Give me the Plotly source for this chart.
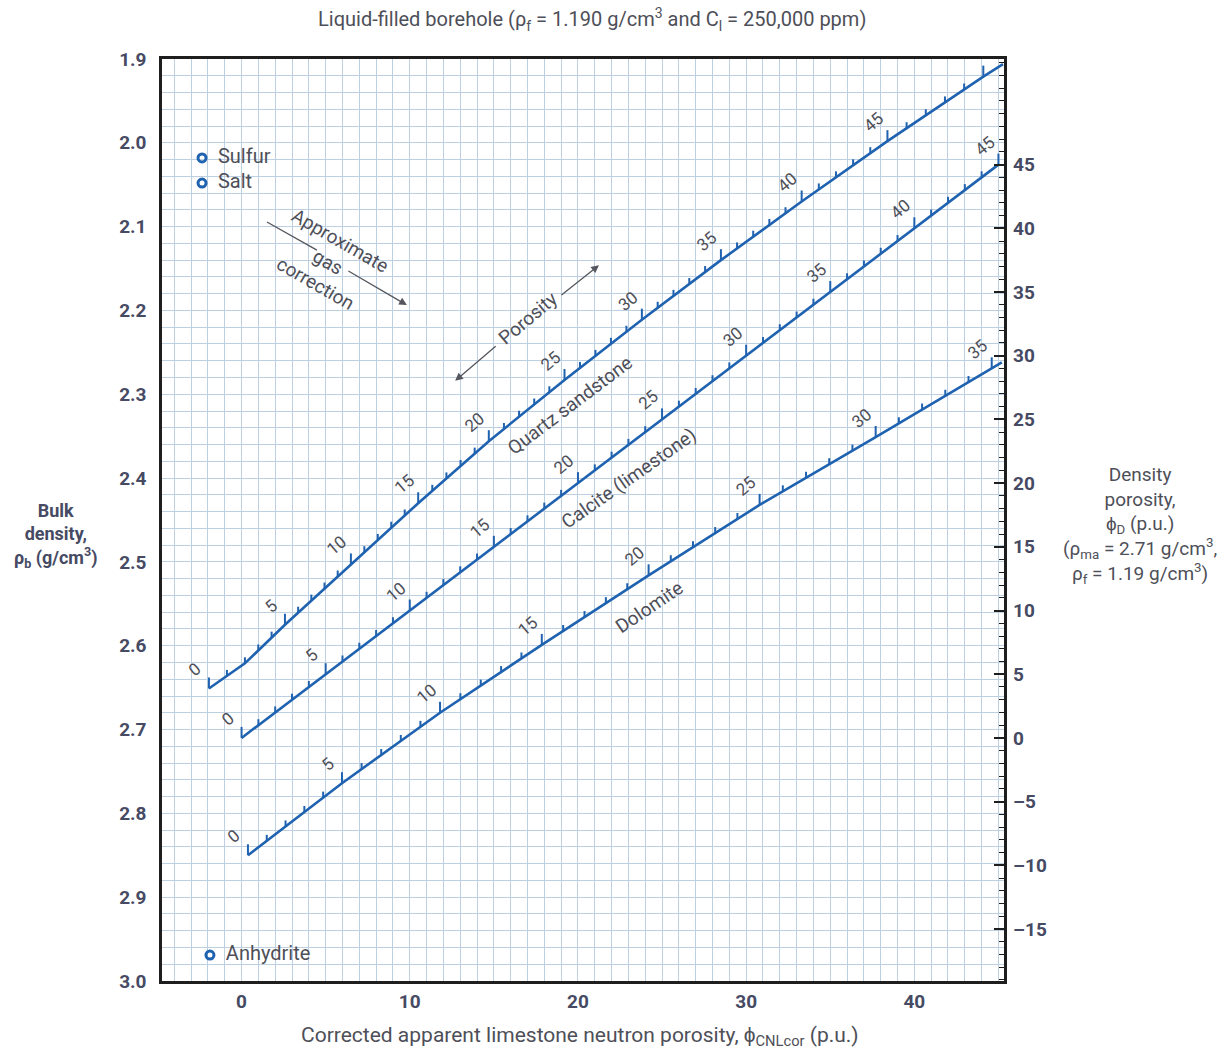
import numpy as np
import plotly.graph_objects as go

# ---------------- data ----------------
# Quartz sandstone: porosity (p.u.), apparent limestone neutron porosity, bulk density
ss_por = [0, 2, 5, 10, 15, 20, 25, 30, 35, 40, 45, 50, 51]
ss_neu = [-1.94, 0.2, 2.58, 6.5, 10.5, 14.7, 19.2, 23.8, 28.5, 33.3, 38.4, 44.1, 45.27]
ss_rho = [2.651, 2.621, 2.575, 2.503, 2.430, 2.356, 2.283, 2.211, 2.140, 2.070, 1.998, 1.921, 1.906]
ss_tickmax = 50
ss_labels = [0, 5, 10, 15, 20, 25, 30, 35, 40, 45]

# Calcite (limestone)
ca_por = [0, 5, 10, 15, 20, 25, 30, 35, 40, 45]
ca_neu = [0, 5, 10, 15, 20, 25, 30, 35, 40, 45]
ca_rho = [2.710, 2.634, 2.558, 2.482, 2.406, 2.330, 2.254, 2.178, 2.102, 2.026]
ca_tickmax = 45
ca_labels = [0, 5, 10, 15, 20, 25, 30, 35, 40, 45]

# Dolomite
do_por = [0, 5, 10, 15, 20, 25, 30, 35, 35.4]
do_neu = [0.38, 5.97, 11.8, 17.85, 24.2, 30.8, 37.7, 44.6, 45.2]
do_rho = [2.850, 2.764, 2.680, 2.599, 2.516, 2.432, 2.351, 2.269, 2.262]
do_tickmax = 35
do_labels = [0, 5, 10, 15, 20, 25, 30, 35]

# Minerals (points)
min_names = ["Sulfur", "Salt", "Anhydrite"]
min_neu = [-2.35, -2.35, -1.88]
min_rho = [2.018, 2.048, 2.969]

# Axis ticks
x_ticks = [0, 10, 20, 30, 40]
y_ticks = [1.9, 2.0, 2.1, 2.2, 2.3, 2.4, 2.5, 2.6, 2.7, 2.8, 2.9, 3.0]
phi_ticks = [-15, -10, -5, 0, 5, 10, 15, 20, 25, 30, 35, 40, 45]
rho_ma, rho_f = 2.71, 1.19

# ---------------- styles ----------------
FONT = "Liberation Sans Narrow, Roboto, Liberation Sans, sans-serif"
BLUE = "#1f62b0"
TXT = "#4e4f58"
AXT = "#464a63"
GRID = "rgb(188,208,226)"
X_RANGE = [-4.73, 45.33]
Y_RANGE = [3.0, 1.9]
PLOT_H_PX = 922
MINOR_LEN = 6 / PLOT_H_PX * 1.1
MAJOR_LEN = 11 / PLOT_H_PX * 1.1

fig = go.Figure()


def add_curve(por, neu, rho, tickmax, labels):
    fig.add_trace(go.Scatter(x=neu, y=rho, mode="lines",
                             line=dict(color=BLUE, width=2.6),
                             hoverinfo="skip", showlegend=False))
    tx, ty = [], []
    for p in range(0, tickmax + 1):
        xv = float(np.interp(p, por, neu))
        yv = float(np.interp(p, por, rho))
        ln = MAJOR_LEN if p % 5 == 0 else MINOR_LEN
        tx += [xv, xv, None]
        ty += [yv, yv - ln, None]
    fig.add_trace(go.Scatter(x=tx, y=ty, mode="lines",
                             line=dict(color=BLUE, width=2),
                             hoverinfo="skip", showlegend=False))
    for p in labels:
        xv = float(np.interp(p, por, neu))
        yv = float(np.interp(p, por, rho))
        fig.add_annotation(x=xv, y=yv, text=str(p), showarrow=False,
                           xshift=-14, yshift=19, textangle=-40,
                           font=dict(family=FONT, size=17, color=TXT))


add_curve(ss_por, ss_neu, ss_rho, ss_tickmax, ss_labels)
add_curve(ca_por, ca_neu, ca_rho, ca_tickmax, ca_labels)
add_curve(do_por, do_neu, do_rho, do_tickmax, do_labels)

# mineral points
fig.add_trace(go.Scatter(x=min_neu, y=min_rho, mode="markers+text",
                         text=["  " + n for n in min_names], textposition="middle right",
                         textfont=dict(family=FONT, size=20, color=TXT),
                         marker=dict(symbol="circle-open", size=8,
                                     line=dict(color=BLUE, width=3), color=BLUE),
                         hoverinfo="skip", showlegend=False))

# invisible trace on right axis so it is rendered
fig.add_trace(go.Scatter(x=[None], y=[None], yaxis="y2", showlegend=False,
                         hoverinfo="skip"))

# curve names
fig.add_annotation(x=19.5, y=2.313, text="Quartz sandstone", showarrow=False,
                   textangle=-37, font=dict(family=FONT, size=19, color=TXT))
fig.add_annotation(x=23.0, y=2.400, text="Calcite (limestone)", showarrow=False,
                   textangle=-35, font=dict(family=FONT, size=19, color=TXT))
fig.add_annotation(x=24.2, y=2.554, text="Dolomite", showarrow=False,
                   textangle=-34, font=dict(family=FONT, size=19, color=TXT))

# porosity double arrow
fig.add_annotation(x=17.0, y=2.209, text="Porosity", showarrow=False,
                   textangle=-40, font=dict(family=FONT, size=19, color=TXT))
fig.add_annotation(x=12.7, y=2.284, ax=42, ay=-36, text="", showarrow=True,
                   arrowhead=2, arrowsize=1.2, arrowwidth=1.3, arrowcolor="#55565e")
fig.add_annotation(x=21.25, y=2.146, ax=-39, ay=31, text="", showarrow=True,
                   arrowhead=2, arrowsize=1.2, arrowwidth=1.3, arrowcolor="#55565e")

# gas correction
fig.add_annotation(x=5.14, y=2.142, text="Approximate<br>gas<br>correction",
                   showarrow=False, textangle=30,
                   font=dict(family=FONT, size=19, color=TXT))
fig.add_shape(type="line", x0=1.51, y0=2.0945, x1=4.48, y1=2.128,
              line=dict(color="#55565e", width=1.3))
fig.add_annotation(x=9.83, y=2.1936, ax=-60, ay=-35, text="", showarrow=True,
                   arrowhead=2, arrowsize=1.2, arrowwidth=1.3, arrowcolor="#55565e")

# titles
PA = dict(xref="paper", yref="paper", showarrow=False, xanchor="center", yanchor="middle")
fig.add_annotation(x=0.5107, y=1.0423,
                   text="Liquid-filled borehole (ρ<sub>f</sub> = 1.190 g/cm<sup>3</sup> and C<sub>l</sub> = 250,000 ppm)",
                   font=dict(family=FONT, size=20, color=TXT), **PA)
fig.add_annotation(x=0.4964, y=-0.0607,
                   text="Corrected apparent limestone neutron porosity, ϕ<sub>CNLcor</sub> (p.u.)",
                   font=dict(family=FONT, size=21, color=TXT), **PA)
fig.add_annotation(x=-0.1259, y=0.4837,
                   text="<b>Bulk</b><br><b>density,</b><br><b>ρ<sub>b</sub> (g/cm<sup>3</sup>)</b>",
                   align="center", font=dict(family=FONT, size=18, color=AXT), **PA)
fig.add_annotation(x=1.1615, y=0.4946,
                   text="Density<br>porosity,<br>ϕ<sub>D</sub> (p.u.)<br>(ρ<sub>ma</sub> = 2.71 g/cm<sup>3</sup>,<br>ρ<sub>f</sub> = 1.19 g/cm<sup>3</sup>)",
                   align="center", font=dict(family=FONT, size=19, color=TXT), **PA)

phi_lo = (rho_ma - Y_RANGE[0]) / (rho_ma - rho_f) * 100
phi_hi = (rho_ma - Y_RANGE[1]) / (rho_ma - rho_f) * 100

fig.update_layout(
    width=1228, height=1056,
    margin=dict(l=162, r=224, t=59, b=75),
    paper_bgcolor="white", plot_bgcolor="white",
    hovermode=False,
    xaxis=dict(range=X_RANGE, tickvals=x_ticks, ticktext=[str(v) for v in x_ticks],
               showgrid=True, gridcolor=GRID, gridwidth=1,
               minor=dict(dtick=1, tick0=0, showgrid=True, gridcolor=GRID, gridwidth=1),
               zeroline=False, showline=True, linecolor="#1e1e1e", linewidth=2.5,
               mirror=True, ticks="", ticklabelstandoff=1,
               tickfont=dict(family=FONT, size=19, color=AXT, weight="bold")),
    yaxis=dict(range=Y_RANGE, tickvals=y_ticks, ticktext=[f"{v:.1f}" for v in y_ticks],
               showgrid=True, gridcolor=GRID, gridwidth=1,
               minor=dict(dtick=0.02, tick0=1.9, showgrid=True, gridcolor=GRID, gridwidth=1),
               zeroline=False, showline=True, linecolor="#1e1e1e", linewidth=2.5,
               mirror=True, ticks="", ticklabelstandoff=9,
               tickfont=dict(family=FONT, size=19, color=AXT, weight="bold")),
    yaxis2=dict(overlaying="y", side="right", anchor="x",
                range=[phi_lo, phi_hi], tickvals=phi_ticks,
                ticktext=[("–" + str(-v)) if v < 0 else str(v) for v in phi_ticks],
                ticks="inside", ticklen=10, tickwidth=1.5, tickcolor="#1e1e1e",
                minor=dict(dtick=1, tick0=0, ticks="inside", ticklen=5,
                           tickwidth=1.2, tickcolor="#1e1e1e"),
                showgrid=False, zeroline=False, showline=False,
                ticklabelstandoff=8,
                tickfont=dict(family=FONT, size=19, color=AXT, weight="bold")),
)

fig.write_html("out.html")
